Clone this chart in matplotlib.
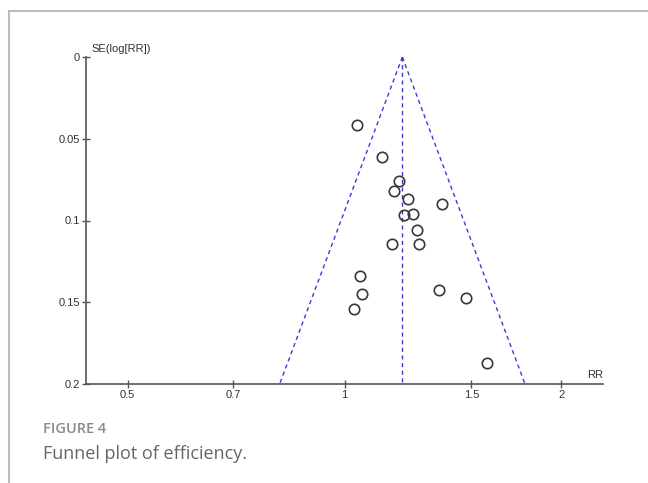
import matplotlib.pyplot as plt
import matplotlib.lines as mlines
import numpy as np

# study estimates
rr = [1.042, 1.127, 1.192, 1.172, 1.224, 1.365, 1.245, 1.210, 1.261,
      1.165, 1.270, 1.052, 1.058, 1.030, 1.352, 1.475, 1.579]
se = [0.0414, 0.0613, 0.0757, 0.0820, 0.0870, 0.0901, 0.0958, 0.0968, 0.1060,
      0.1146, 0.1142, 0.1340, 0.1448, 0.1541, 0.1427, 0.1472, 0.1873]
pooled_rr = 1.203
se_max = 0.2
xticks = [0.5, 0.7, 1, 1.5, 2]
xticklabels = ['0.5', '0.7', '1', '1.5', '2']
yticks = [0, 0.05, 0.1, 0.15, 0.2]
yticklabels = ['0', '0.05', '0.1', '0.15', '0.2']

plt.rcParams['font.family'] = ['Liberation Sans', 'DejaVu Sans']

fig = plt.figure(figsize=(6.48, 4.83), dpi=100)
ax = fig.add_axes([86 / 648, 1 - 384 / 483, (603 - 86) / 648, (384 - 57) / 483])

# funnel (pseudo 95% limits)
c = np.log(pooled_rr)
se_line = np.array([0, se_max])
blue = '#3b3bd6'
ax.plot(np.exp(c - 1.96 * se_line), se_line, ls=(0, (3, 2.5)), color=blue, lw=1)
ax.plot(np.exp(c + 1.96 * se_line), se_line, ls=(0, (3, 2.5)), color=blue, lw=1)
ax.plot([pooled_rr, pooled_rr], [0, se_max], ls=(0, (3, 2.5)), color=blue, lw=1)

ax.plot(rr, se, 'o', mfc='none', mec='#383838', mew=1.2, ms=7.5, zorder=5)

ax.set_xscale('log')
ax.set_xlim(np.exp(-0.826), np.exp(0.826))
ax.set_ylim(se_max, 0)
ax.set_xticks(xticks)
ax.set_xticklabels(xticklabels)
ax.minorticks_off()
ax.set_yticks(yticks)
ax.set_yticklabels(yticklabels)

for s in ['top', 'right']:
    ax.spines[s].set_visible(False)
for s in ['left', 'bottom']:
    ax.spines[s].set_color('#555555')
    ax.spines[s].set_linewidth(1.2)
ax.tick_params(direction='inout', length=6, width=1, color='#555555',
               labelsize=8, labelcolor='#333333', pad=1.5)

ax.annotate('SE(log[RR])', xy=(0, 1), xycoords='axes fraction', xytext=(4, 2),
            textcoords='offset points', fontsize=8, color='#333333', va='bottom')
ax.annotate('RR', xy=(1, 0), xycoords='axes fraction', xytext=(0, 3),
            textcoords='offset points', fontsize=8, color='#333333',
            ha='right', va='bottom')

# page frame lines
fig.add_artist(mlines.Line2D([9 / 648, 1], [1 - 10.5 / 483, 1 - 10.5 / 483],
                             color='#bbbbbb', lw=1.5))
fig.add_artist(mlines.Line2D([9 / 648, 9 / 648], [0, 1 - 10.5 / 483],
                             color='#bbbbbb', lw=1.5))

fig.text(43 / 648, 1 - 429 / 483, 'FIGURE 4', fontsize=10.5, color='#8a8a8a',
         fontweight='semibold', family=['Open Sans', 'DejaVu Sans'], va='center')
fig.text(43 / 648, 1 - 454 / 483, 'Funnel plot of efficiency.', fontsize=13,
         color='#666666', family=['Open Sans', 'DejaVu Sans'], va='center')

fig.savefig('out.png', dpi=100)
